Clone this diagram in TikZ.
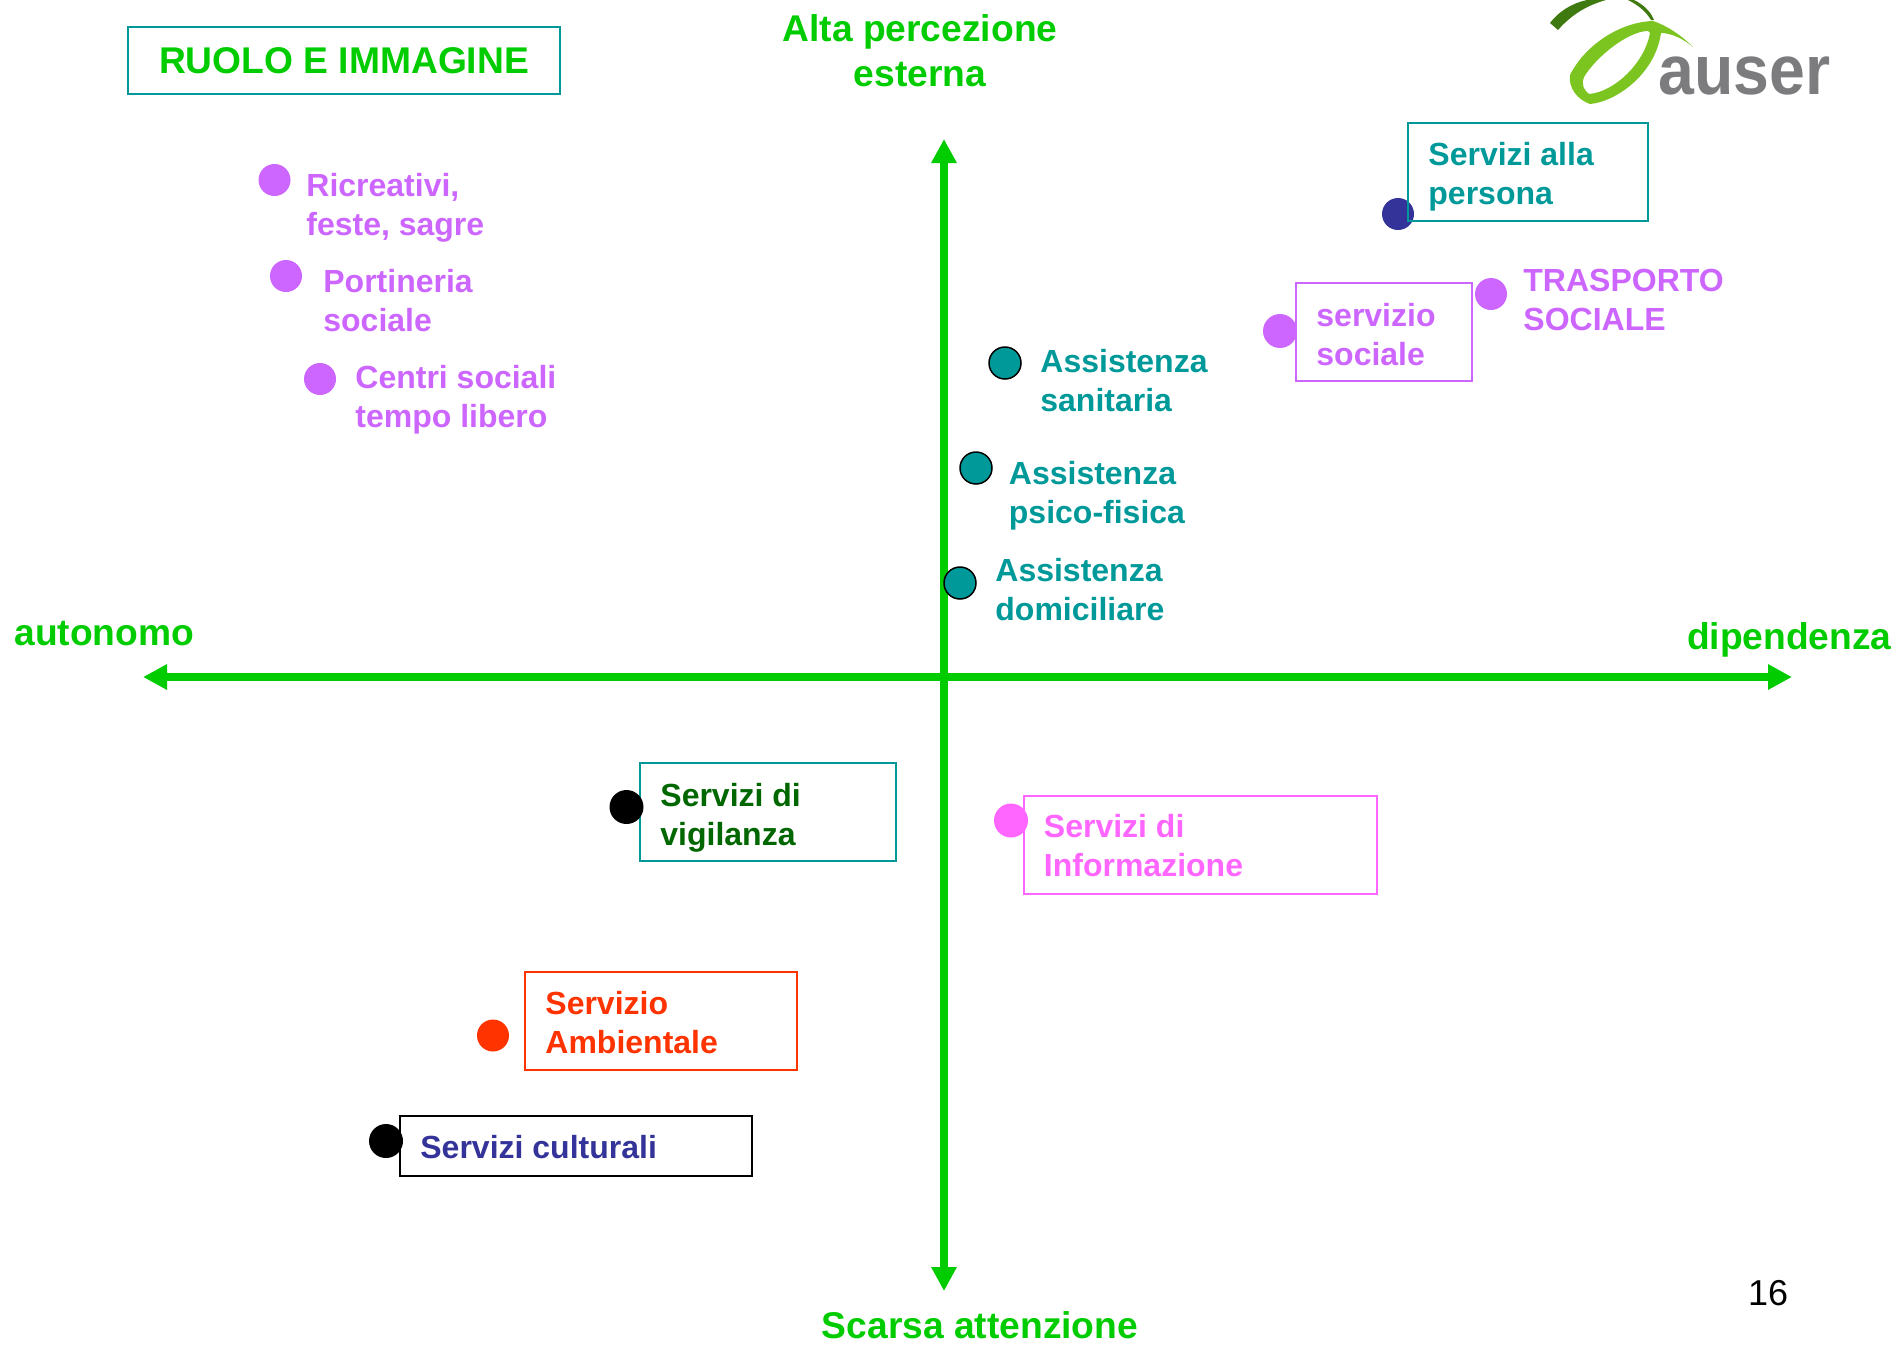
\documentclass[tikz,border=0pt]{standalone}
\usepackage{fontspec}
\setmainfont{Liberation Sans}
\usepackage{tikz}
\usetikzlibrary{arrows.meta, positioning}

\definecolor{axisgreen}{HTML}{00CC00}
\definecolor{teal}{HTML}{009999}
\definecolor{violet}{HTML}{CC66FF}
\definecolor{pinkish}{HTML}{FF66FF}
\definecolor{redorange}{HTML}{FF3300}
\definecolor{navy}{HTML}{333399}
\definecolor{darkgreen}{HTML}{006600}
\definecolor{logogreen}{HTML}{7CC520}
\definecolor{logodark}{HTML}{3F7A10}
\definecolor{logogray}{HTML}{7C7C7E}

\begin{document}
\begin{tikzpicture}[
    x = 0.5pt, y = -0.5pt,
    axis/.style = {
      draw = axisgreen, line width = 4pt,
      {Triangle[length = 12pt, width = 12pt]}-{Triangle[length = 12pt, width = 12pt]}
    },
    heading/.style = {
      font = \fontsize{18.6}{22.5}\selectfont\bfseries, text = axisgreen,
      align = center, inner sep = 0pt
    },
    dot/.style = {
      circle, minimum size = 16pt, inner sep = 0pt, outer sep = 0pt
    },
    bigdot/.style = {
      dot, minimum size = 17pt
    },
    ringdot/.style = {
      dot, fill = teal, draw = black, line width = 0.75pt
    },
    item/.style = {
      font = \fontsize{16}{19.5}\selectfont\bfseries, align = left,
      inner sep = 0pt, anchor = west
    },
    itembox/.style = {
      draw, line width = 1pt, inner sep = 0pt, outer sep = 0pt, anchor = west
    }
  ]
  \useasboundingbox (0,0) rectangle (1899,1350);

  % axes
  \coordinate (axis top) at (944,139);
  \coordinate (axis bottom) at (944,1291);
  \coordinate (axis left) at (143,677);
  \coordinate (axis right) at (1792,677);
  \draw [axis] (axis top) -- (axis bottom);
  \draw [axis] (axis left) -- (axis right);

  \node [heading] (top) at (920,51) {Alta percezione\\esterna};
  \node [heading] (bottom) at (980,1325) {Scarsa attenzione};
  \node [heading, anchor = west] (left) at (14,634) {autonomo};
  \node [heading, anchor = east] (right) at (1892,640) {dipendenza};

  \node [draw = teal, line width = 1pt, minimum width = 216pt, minimum height = 33.5pt,
    heading, text = axisgreen, outer sep = 0pt] (title) at (344,60.5) {RUOLO E IMMAGINE};

  % upper left
  \node [dot, fill = violet] (ricreativi) at (274.5,180) {};
  \node [item, text = violet] (ricreativi text) at (306,208) {Ricreativi,\\feste, sagre};
  \node [dot, fill = violet] (portineria) at (286,276) {};
  \node [item, text = violet] (portineria text) at (323,301) {Portineria\\sociale};
  \node [dot, fill = violet] (centri) at (320,379) {};
  \node [item, text = violet] (centri text) at (355,400) {Centri sociali\\tempo libero};

  % upper right
  \node [ringdot] (sanitaria) at (1005,363) {};
  \node [item, text = teal] (sanitaria text) at (1040,381) {Assistenza\\sanitaria};
  \node [ringdot] (psico) at (976,468) {};
  \node [item, text = teal] (psico text) at (1008.5,495.5) {Assistenza\\psico-fisica};
  \node [ringdot] (domiciliare) at (960,583) {};
  \node [item, text = teal] (domiciliare text) at (995,589.5) {Assistenza\\domiciliare};

  \node [dot, fill = navy] (persona dot) at (1398,214) {};
  \node [itembox, draw = teal, minimum width = 120pt, minimum height = 49pt] (persona) at (1408,172) {};
  \node [item, text = teal, right = 10pt of persona.west, yshift = -2.3pt] (persona text)
    {Servizi alla\\persona};

  \node [itembox, draw = violet, minimum width = 88pt, minimum height = 49pt] (sociale) at (1296,332) {};
  \node [item, text = violet, right = 10pt of sociale.west, yshift = -1.5pt] (sociale text)
    {servizio\\sociale};
  \node [bigdot, fill = violet] (sociale dot) at (1280,331) {};
  \node [dot, fill = violet] (trasporto) at (1491,294) {};
  \node [item, text = violet] (trasporto text) at (1523,300) {TRASPORTO\\SOCIALE};

  % lower half
  \node [itembox, draw = teal, minimum width = 128pt, minimum height = 49pt] (vigilanza) at (640,812) {};
  \node [item, text = darkgreen, right = 10pt of vigilanza.west, yshift = -2.8pt] (vigilanza text)
    {Servizi di\\vigilanza};
  \node [bigdot, fill = black] (vigilanza dot) at (626.5,807) {};

  \node [itembox, draw = pinkish, minimum width = 176.5pt, minimum height = 49pt] (informazione) at (1023.5,844.5) {};
  \node [item, text = pinkish, right = 10pt of informazione.west, yshift = -0.6pt] (informazione text)
    {Servizi di\\Informazione};
  \node [bigdot, fill = pinkish] (informazione dot) at (1011,820.5) {};

  \node [itembox, draw = redorange, minimum width = 136pt, minimum height = 49pt] (ambientale) at (525,1020.5) {};
  \node [item, text = redorange, right = 10pt of ambientale.west, yshift = -1.2pt] (ambientale text)
    {Servizio\\Ambientale};
  \node [dot, fill = redorange] (ambientale dot) at (493,1035.5) {};

  \node [itembox, draw = black, minimum width = 176pt, minimum height = 30pt] (culturali) at (400,1145.5) {};
  \node [item, text = navy, right = 10pt of culturali.west, yshift = -0.8pt] (culturali text)
    {Servizi culturali};
  \node [bigdot, fill = black] (culturali dot) at (386,1141) {};

  \node [font = \fontsize{18}{22}\selectfont, inner sep = 0pt] (page) at (1768,1293) {16};

  % logo
  \fill [logodark] (1550,23) .. controls (1558,12) and (1572,3) .. (1587,0)
    -- (1606,0) .. controls (1588,5) and (1572,14) .. (1558,30) -- cycle;
  \fill [logodark] (1628,0) -- (1634,0) .. controls (1642,4) and (1650,10) .. (1654,20)
    -- (1651,20) .. controls (1645,10) and (1636,4) .. (1628,0) -- cycle;
  \fill [logogreen, even odd rule] (1653,21) .. controls (1620,22) and (1585,45) .. (1570,75)
    .. controls (1568,88) and (1578,100) .. (1590,104)
    .. controls (1615,102) and (1655,75) .. (1661,33)
    .. controls (1672,33) and (1685,40) .. (1693,47)
    .. controls (1682,36) and (1668,26) .. (1653,21) -- cycle
    (1648,31) .. controls (1628,31) and (1596,57) .. (1584,77)
    .. controls (1581,85) and (1584,90) .. (1589,94)
    .. controls (1615,92) and (1645,62) .. (1650,33)
    -- (1648,31) -- cycle;
  \node [font = \fontsize{35}{35}\selectfont\bfseries, text = logogray, inner sep = 0pt,
    anchor = base west, xscale = 0.92, transform shape] (logo) at (1658,94) {auser};
\end{tikzpicture}
\end{document}
